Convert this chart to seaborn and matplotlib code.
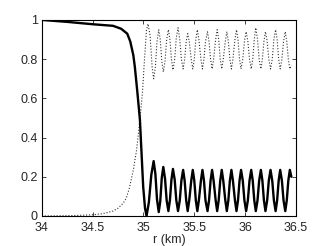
import matplotlib
matplotlib.use('Agg')
import matplotlib.pyplot as plt
import seaborn as sns

# solid curve, values
r_solid = [34.0, 34.25, 34.5, 34.7, 34.78, 34.84, 34.87, 34.9, 34.915, 34.94,
           34.965, 34.98, 34.997, 35.015, 35.03,
           35.053, 35.077, 35.10, 35.117, 35.133, 35.15, 35.165, 35.18,
           35.195, 35.212, 35.228, 35.245, 35.26, 35.275, 35.29, 35.307,
           35.323, 35.34, 35.357, 35.373,
           35.39, 35.405, 35.42, 35.435, 35.45, 35.47,
           35.485, 35.50, 35.515, 35.53, 35.545, 35.565,
           35.58, 35.595, 35.61, 35.63, 35.645, 35.66,
           35.675, 35.69, 35.71, 35.725, 35.74, 35.755,
           35.77, 35.785, 35.805, 35.82, 35.835, 35.85,
           35.865, 35.88, 35.90, 35.915, 35.93, 35.945,
           35.96, 35.977, 35.993, 36.01, 36.027, 36.043,
           36.06, 36.075, 36.09, 36.105, 36.122, 36.138,
           36.155, 36.17, 36.185, 36.2, 36.217, 36.233,
           36.25, 36.267, 36.283, 36.3, 36.315, 36.33,
           36.345, 36.362, 36.378, 36.395, 36.41, 36.425,
           36.44, 36.455]
v_solid = [1.0, 0.99, 0.978, 0.97, 0.955, 0.93, 0.89, 0.82, 0.76, 0.63,
           0.49, 0.33, 0.15, 0.04, 0.0,
           0.07, 0.21, 0.28, 0.215, 0.085, 0.02, 0.075, 0.195,
           0.25, 0.19, 0.08, 0.025, 0.08, 0.185, 0.24, 0.185,
           0.08, 0.025, 0.08, 0.18,
           0.235, 0.18, 0.08, 0.025, 0.08, 0.18,
           0.235, 0.18, 0.08, 0.025, 0.08, 0.18,
           0.235, 0.18, 0.08, 0.025, 0.08, 0.18,
           0.235, 0.18, 0.08, 0.025, 0.08, 0.18,
           0.235, 0.18, 0.08, 0.025, 0.08, 0.18,
           0.235, 0.18, 0.08, 0.025, 0.08, 0.18,
           0.235, 0.18, 0.08, 0.025, 0.08, 0.18,
           0.235, 0.18, 0.08, 0.025, 0.08, 0.18,
           0.235, 0.18, 0.08, 0.025, 0.08, 0.18,
           0.235, 0.18, 0.08, 0.025, 0.08, 0.18,
           0.235, 0.18, 0.08, 0.025, 0.08, 0.18,
           0.235, 0.20]

# dotted curve
r_dot = [34.0, 34.3, 34.5, 34.6, 34.7, 34.75, 34.8, 34.83, 34.86, 34.9,
         34.93, 34.95, 34.97, 34.99, 35.01, 35.03, 35.045,
         35.065, 35.085, 35.10, 35.117, 35.133, 35.15, 35.165, 35.18,
         35.195, 35.212, 35.228, 35.245, 35.26, 35.275, 35.29, 35.307,
         35.323, 35.34, 35.357, 35.373,
         35.39, 35.405, 35.42, 35.435, 35.45, 35.47,
         35.485, 35.50, 35.515, 35.53, 35.545, 35.565,
         35.58, 35.595, 35.61, 35.63, 35.645, 35.66,
         35.675, 35.69, 35.71, 35.725, 35.74, 35.755,
         35.77, 35.785, 35.805, 35.82, 35.835, 35.85,
         35.865, 35.88, 35.90, 35.915, 35.93, 35.945,
         35.96, 35.977, 35.993, 36.01, 36.027, 36.043,
         36.06, 36.075, 36.09, 36.105, 36.122, 36.138,
         36.155, 36.17, 36.185, 36.2, 36.217, 36.233,
         36.25, 36.267, 36.283, 36.3, 36.315, 36.33,
         36.345, 36.362, 36.378, 36.395, 36.41, 36.425,
         36.44, 36.455]
v_dot = [0.0, 0.002, 0.006, 0.012, 0.025, 0.04, 0.065, 0.09, 0.14, 0.235,
         0.33, 0.42, 0.52, 0.63, 0.8, 0.95, 0.98,
         0.92, 0.76, 0.70, 0.76, 0.89, 0.95, 0.90, 0.79,
         0.735, 0.79, 0.90, 0.95, 0.90, 0.80, 0.745, 0.80,
         0.91, 0.96, 0.90, 0.80,
         0.75, 0.80, 0.89, 0.93, 0.89, 0.80,
         0.75, 0.80, 0.90, 0.95, 0.90, 0.80,
         0.75, 0.80, 0.89, 0.94, 0.89, 0.80,
         0.75, 0.80, 0.90, 0.95, 0.90, 0.80,
         0.75, 0.80, 0.89, 0.94, 0.89, 0.80,
         0.75, 0.80, 0.90, 0.95, 0.90, 0.80,
         0.75, 0.80, 0.89, 0.94, 0.89, 0.80,
         0.75, 0.80, 0.90, 0.96, 0.90, 0.80,
         0.75, 0.80, 0.89, 0.94, 0.89, 0.80,
         0.75, 0.80, 0.90, 0.95, 0.90, 0.80,
         0.75, 0.80, 0.89, 0.94, 0.89, 0.80,
         0.75, 0.77]

sns.set_style('ticks')
plt.rcParams['font.family'] = ['Liberation Sans', 'DejaVu Sans']

fig = plt.figure(figsize=(3.27, 2.46), dpi=100)
ax = fig.add_axes([0.128, 0.122, 0.777, 0.797])

sns.lineplot(x=r_dot, y=v_dot, ax=ax, color='#333333', linestyle=':',
             linewidth=0.8, estimator=None, sort=False)
sns.lineplot(x=r_solid, y=v_solid, ax=ax, color='k', linewidth=1.7,
             estimator=None, sort=False)

ax.set_xlim(34, 36.5)
ax.set_ylim(0, 1)
ax.set_xticks([34, 34.5, 35, 35.5, 36, 36.5])
ax.set_xticklabels(['34', '34.5', '35', '35.5', '36', '36.5'])
ax.set_yticks([0, 0.2, 0.4, 0.6, 0.8, 1])
ax.set_yticklabels(['0', '0.2', '0.4', '0.6', '0.8', '1'])
ax.tick_params(direction='in', top=True, right=True, length=3, width=0.6,
               labelsize=9)
ax.tick_params(axis='x', pad=4)
ax.tick_params(axis='y', pad=3)
for s in ax.spines.values():
    s.set_linewidth(0.8)
    s.set_color('k')
ax.set_xlabel('r (km)', fontsize=9, labelpad=0)

fig.savefig('out.png', dpi=100)
